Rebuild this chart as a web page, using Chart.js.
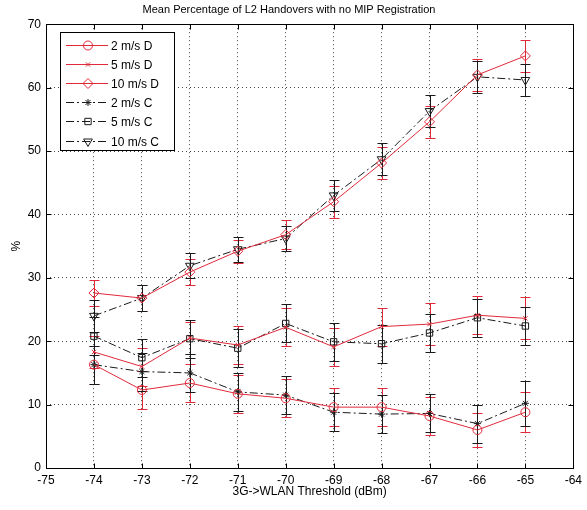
<!DOCTYPE html>
<html>
<head>
<meta charset="utf-8">
<script src="https://cdn.jsdelivr.net/npm/chart.js@4/dist/chart.umd.min.js"></script>
<style>
  html, body { margin: 0; padding: 0; background: #fff; }
  canvas { display: block; }
</style>
</head>
<body>
<canvas id="myChart" width="587" height="510"></canvas>
<script>
// thresholds (dBm) and mean % per series
const thresholds = [-74, -73, -72, -71, -70, -69, -68, -67, -66, -65];
const d2 = [16.3, 12.3, 13.4, 11.7, 11.0, 9.6, 9.6, 8.2, 6.0, 8.8];
const d5 = [18.3, 16.0, 20.5, 19.4, 22.2, 19.1, 22.3, 22.7, 24.1, 23.6];
const d10 = [27.6, 26.8, 30.9, 34.2, 36.8, 42.0, 48.1, 54.6, 62.0, 65.0];
const c2 = [16.3, 15.2, 15.0, 12.0, 11.5, 8.8, 8.5, 8.6, 7.0, 10.2];
const c5 = [20.8, 17.4, 20.4, 18.9, 22.8, 19.9, 19.6, 21.3, 23.7, 22.4];
const c10 = [24.0, 26.8, 31.9, 34.5, 36.2, 43.0, 48.7, 56.3, 61.7, 61.2];

// error bar half-lengths
const d2Err = [3, 3, 3, 3, 3, 3, 3, 3, 2.7, 3.2];
const d5Err = [2.5, 3, 2.5, 3, 3, 3, 3, 3.3, 3, 3.3];
const d10Err = [2, 2, 2, 1.8, 2.3, 2.5, 2.5, 2.5, 2.5, 2.5];
const c2Err = [3, 3, 3, 3, 3, 3, 3, 3, 3, 3.5];
const c5Err = [3, 3, 3, 3, 3, 3, 3, 3, 3, 3];
const c10Err = [2.5, 2, 2, 2, 2, 2.5, 2.5, 2.5, 2.5, 2.5];

const RED = '#e02a3a';
const BLK = '#1a1a1a';
const DASHDOT = [8, 3, 2, 3];
const FONT = 'Liberation Sans, Arial, sans-serif';

function pts(ys) {
    return ys.map((y, i) => ({ x: thresholds[i], y: y }));
}

function series(label, ys, errs, color, style, radius, dash, rot) {
    return {
        label: label,
        data: pts(ys),
        errors: errs,
        borderColor: color,
        borderWidth: 1,
        borderDash: dash,
        pointStyle: style,
        pointRadius: radius,
        pointRotation: rot || 0,
        pointBorderColor: color,
        pointBackgroundColor: 'rgba(0,0,0,0)',
        pointBorderWidth: 1,
        tension: 0,
        fill: false
    };
}

const datasets = [
    series('2 m/s D', d2, d2Err, RED, 'circle', 4.5, []),
    series('5 m/s D', d5, d5Err, RED, 'crossRot', 3, []),
    series('10 m/s D', d10, d10Err, RED, 'rectRot', 5, []),
    series('2 m/s C', c2, c2Err, BLK, 'star', 3.5, DASHDOT),
    series('5 m/s C', c5, c5Err, BLK, 'rect', 4.5, DASHDOT),
    series('10 m/s C', c10, c10Err, BLK, 'triangle', 5, DASHDOT, 180)
];

const errorBars = {
    id: 'errorBars',
    beforeDatasetsDraw(chart) {
        const ctx = chart.ctx;
        const y = chart.scales.y;
        chart.data.datasets.forEach((ds, di) => {
            const meta = chart.getDatasetMeta(di);
            ctx.save();
            ctx.strokeStyle = ds.borderColor;
            ctx.lineWidth = 1;
            meta.data.forEach((p, i) => {
                const v = ds.data[i].y, e = ds.errors[i];
                const top = Math.round(y.getPixelForValue(v + e)) + 0.5;
                const bot = Math.round(y.getPixelForValue(v - e)) + 0.5;
                const x = Math.round(p.x) + 0.5;
                ctx.beginPath();
                ctx.moveTo(x, top); ctx.lineTo(x, bot);
                ctx.moveTo(x - 5, top); ctx.lineTo(x + 5, top);
                ctx.moveTo(x - 5, bot); ctx.lineTo(x + 5, bot);
                ctx.stroke();
            });
            ctx.restore();
        });
    }
};

const boxAndLegend = {
    id: 'boxAndLegend',
    afterDraw(chart) {
        const ctx = chart.ctx;
        const a = chart.chartArea;
        const xs = chart.scales.x, ys = chart.scales.y;
        ctx.save();
        ctx.strokeStyle = '#000';
        ctx.lineWidth = 1;
        const L = Math.round(a.left) + 0.5, R = Math.round(a.right) + 0.5;
        const T = Math.round(a.top) + 0.5, B = Math.round(a.bottom) + 0.5;
        ctx.strokeRect(L, T, R - L, B - T);
        // inward ticks
        ctx.beginPath();
        xs.ticks.forEach(t => {
            const px = Math.round(xs.getPixelForValue(t.value)) + 0.5;
            ctx.moveTo(px, B); ctx.lineTo(px, B - 5);
            ctx.moveTo(px, T); ctx.lineTo(px, T + 5);
        });
        ys.ticks.forEach(t => {
            const py = Math.round(ys.getPixelForValue(t.value)) + 0.5;
            ctx.moveTo(L, py); ctx.lineTo(L + 5, py);
            ctx.moveTo(R, py); ctx.lineTo(R - 5, py);
        });
        ctx.stroke();

        // legend box
        const bx = 60.5, by = 32.5, bw = 114, bh = 118;
        ctx.fillStyle = '#fff';
        ctx.fillRect(bx, by, bw, bh);
        ctx.strokeRect(bx, by, bw, bh);
        ctx.font = '12px ' + FONT;
        ctx.textBaseline = 'middle';
        chart.data.datasets.forEach((ds, i) => {
            const ly = Math.round(by + 12 + i * 19.2) + 0.5;
            ctx.save();
            ctx.strokeStyle = ds.borderColor;
            ctx.setLineDash(ds.borderDash);
            ctx.beginPath();
            ctx.moveTo(66, ly); ctx.lineTo(108, ly);
            ctx.stroke();
            ctx.restore();
            ctx.save();
            ctx.strokeStyle = ds.borderColor;
            ctx.fillStyle = 'rgba(0,0,0,0)';
            ctx.lineWidth = 1;
            Chart.helpers.drawPoint(ctx, {
                pointStyle: ds.pointStyle,
                rotation: ds.pointRotation,
                radius: ds.pointRadius,
                borderWidth: 1
            }, 88, ly);
            ctx.restore();
            ctx.fillStyle = '#000';
            ctx.fillText(ds.label, 111, ly + 1);
        });
        ctx.restore();
    }
};

const config = {
    type: 'line',
    data: { datasets: datasets },
    options: {
        responsive: false,
        animation: false,
        layout: { padding: { left: 0, right: 9, top: 0, bottom: 0 } },
        plugins: {
            legend: { display: false },
            tooltip: { enabled: false },
            title: {
                display: true,
                text: 'Mean Percentage of L2 Handovers with no MIP Registration',
                color: '#000',
                font: { family: FONT, size: 11, weight: 'normal' },
                padding: { top: 3, bottom: 8 }
            }
        },
        scales: {
            x: {
                type: 'linear',
                min: -75,
                max: -64,
                afterFit(scale) { scale.height = 42; },
                ticks: {
                    stepSize: 1,
                    color: '#000',
                    padding: 5,
                    font: { family: FONT, size: 12 }
                },
                grid: {
                    color: '#444',
                    lineWidth: 1,
                    drawTicks: false
                },
                border: { display: false, dash: [1, 3] },
                title: {
                    display: true,
                    text: '3G->WLAN Threshold (dBm)',
                    color: '#000',
                    font: { family: FONT, size: 12 },
                    padding: { top: 0, bottom: 11 }
                }
            },
            y: {
                min: 0,
                max: 70,
                afterFit(scale) { scale.width = 46; },
                ticks: {
                    stepSize: 10,
                    color: '#000',
                    padding: 5,
                    font: { family: FONT, size: 12 }
                },
                grid: {
                    color: '#444',
                    lineWidth: 1,
                    drawTicks: false
                },
                border: { display: false, dash: [1, 3] },
                title: {
                    display: true,
                    text: '%',
                    color: '#000',
                    font: { family: FONT, size: 12 },
                    padding: { top: 9, bottom: 0 }
                }
            }
        }
    },
    plugins: [errorBars, boxAndLegend]
};

const myChart = new Chart(
    document.getElementById('myChart'),
    config
);
</script>
</body>
</html>
